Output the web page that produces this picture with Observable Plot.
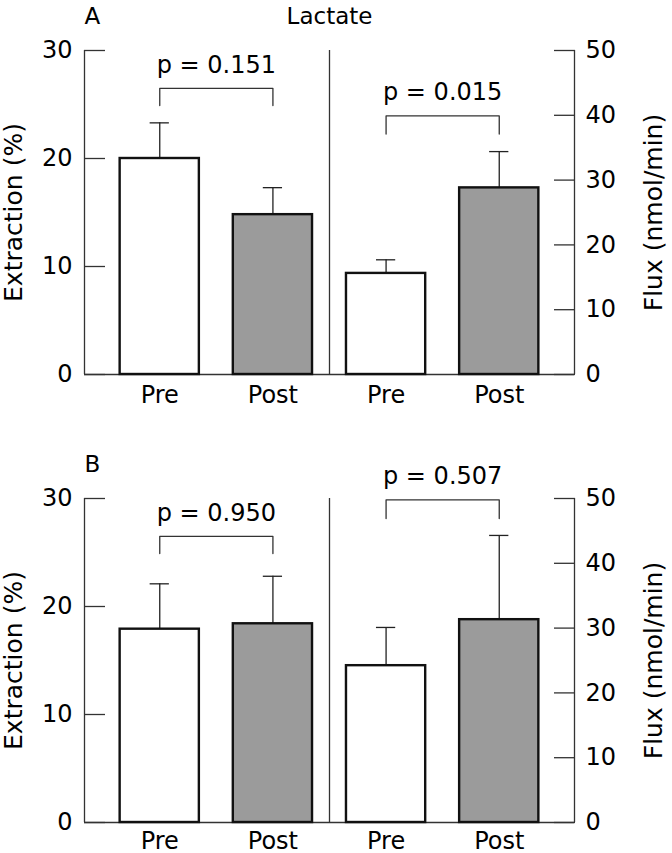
<!DOCTYPE html>
<html><head><meta charset="utf-8">
<script src="https://cdn.jsdelivr.net/npm/d3@7"></script>
<script src="https://cdn.jsdelivr.net/npm/@observablehq/plot@0.6"></script>
<style>
  html, body { margin: 0; padding: 0; background: #fff; }
  #chart svg { display: block; }
</style>
</head><body><div id="chart"></div>
<script>
// ---- data ----
const conditions = ["Pre", "Post", "Pre", "Post"];
const measures = ["Extraction", "Extraction", "Flux", "Flux"];
const panelLetters = ["A", "B"];
const panelTitles = ["Lactate", ""];
const extractionLabel = "Extraction (%)";
const fluxLabel = "Flux (nmol/min)";
const extractionTicks = [0, 10, 20, 30];
const fluxTicks = [0, 10, 20, 30, 40, 50];
const extractionMax = 30;
const fluxMax = 50;

// means and SE (Extraction in %, Flux in nmol/min)
const meanA = [20.0, 14.8, 15.6, 28.8];
const errA  = [3.3, 2.5, 2.1, 5.6];
const meanB = [17.9, 18.4, 24.2, 31.3];
const errB  = [4.2, 4.4, 5.9, 13.0];

// p-value brackets (Pre vs Post in each measure)
const pLabelsA = ["p = 0.151", "p = 0.015"];
const pLabelsB = ["p = 0.950", "p = 0.507"];
const bracketTopA = [26.5, 39.9];
const bracketLegA = [24.9, 37.1];
const bracketTopB = [26.5, 49.8];
const bracketLegB = [24.9, 46.9];

// ---- build ----
const k = extractionMax / fluxMax; // flux plotted on the extraction scale
const toY = (m, v) => (m === "Flux" ? v * k : v);
const xDomain = [-0.665, conditions.length - 1 + 0.665];
const barHalf = 0.35, capHalf = 0.085;
const FONT = "'DejaVu Sans', sans-serif";

function panel({letter, title, mean, err, pLabels, tops, legs, height, marginTop, marginBottom, xPad}) {
  const rows = conditions.map((c, i) => ({
    i, cond: c, measure: measures[i],
    mean: toY(measures[i], mean[i]),
    top: toY(measures[i], mean[i] + err[i])
  }));
  const comps = [0, 1].map(j => {
    const m = j === 0 ? "Extraction" : "Flux";
    const idx = rows.filter(r => r.measure === m).map(r => r.i);
    return {x1: idx[0], x2: idx[1], top: toY(m, tops[j]), leg: toY(m, legs[j]), label: pLabels[j], j};
  });
  const bracketPts = comps.flatMap(c => [
    {x: c.x1, y: c.leg, j: c.j}, {x: c.x1, y: c.top, j: c.j},
    {x: c.x2, y: c.top, j: c.j}, {x: c.x2, y: c.leg, j: c.j}
  ]);
  const divider = (comps[0].x2 + comps[1].x1) / 2;
  const axisStyle = {stroke: "#333", strokeWidth: 1.3, fill: "black", fontSize: 24, label: null};

  return Plot.plot({
    width: 672, height, marginLeft: 84, marginRight: 98, marginTop, marginBottom,
    x: {domain: xDomain},
    y: {domain: [0, extractionMax]},
    color: {domain: ["Pre", "Post"], range: ["white", "#9b9b9b"]},
    style: {fontFamily: FONT, fontSize: "24px", color: "black", background: "white", overflow: "visible"},
    marks: [
      Plot.ruleY([0], {stroke: "#333", strokeWidth: 1.3}),
      Plot.ruleX([xDomain[0], divider, xDomain[1]], {y1: 0, y2: extractionMax, stroke: "#333", strokeWidth: 1.3}),
      Plot.axisY({anchor: "left", ticks: extractionTicks, tickSize: -21, tickPadding: 33, ...axisStyle}),
      Plot.axisY({anchor: "right", ticks: fluxTicks.map(v => v * k), tickFormat: v => String(Math.round(v / k)),
                  tickSize: -21, tickPadding: 32, ...axisStyle}),
      Plot.axisX({ticks: conditions.map((c, i) => i), tickFormat: i => conditions[i], tickSize: 0, tickPadding: xPad,
                  fill: "black", fontSize: 24, label: null}),
      Plot.ruleX(rows, {x: "i", y1: "mean", y2: "top", stroke: "#222", strokeWidth: 1.3}),
      Plot.ruleY(rows, {y: "top", x1: d => d.i - capHalf, x2: d => d.i + capHalf, stroke: "#222", strokeWidth: 1.3}),
      Plot.rectY(rows, {x1: d => d.i - barHalf, x2: d => d.i + barHalf, y1: 0, y2: "mean", fill: "cond",
                        stroke: "#111", strokeWidth: 2.4}),
      Plot.line(bracketPts, {x: "x", y: "y", z: "j", stroke: "#333", strokeWidth: 1.3}),
      Plot.text(comps, {x: d => (d.x1 + d.x2) / 2, y: "top", text: "label", lineAnchor: "bottom", dy: -15.5,
                        fontSize: 24, fill: "black"}),
      Plot.text([extractionLabel], {frameAnchor: "left", textAnchor: "middle", dx: -70.5, rotate: -90,
                                    fontSize: 25, fill: "black"}),
      Plot.text([fluxLabel], {frameAnchor: "right", textAnchor: "middle", dx: 79.4, rotate: -90,
                              fontSize: 25, fill: "black"}),
      Plot.text([letter], {frameAnchor: "top-left", textAnchor: "start", lineAnchor: "bottom", dy: -26.2,
                           fontSize: 23, fill: "black"}),
      title ? Plot.text([title], {frameAnchor: "top", lineAnchor: "bottom", dy: -26.2, fontSize: 23, fill: "black"}) : null
    ]
  });
}

const chart = document.getElementById("chart");
chart.append(panel({letter: panelLetters[0], title: panelTitles[0], mean: meanA, err: errA,
  pLabels: pLabelsA, tops: bracketTopA, legs: bracketLegA, height: 424, marginTop: 50, marginBottom: 50, xPad: 11}));
chart.append(panel({letter: panelLetters[1], title: panelTitles[1], mean: meanB, err: errB,
  pLabels: pLabelsB, tops: bracketTopB, legs: bracketLegB, height: 429, marginTop: 74, marginBottom: 31, xPad: 9}));
</script>
</body></html>
